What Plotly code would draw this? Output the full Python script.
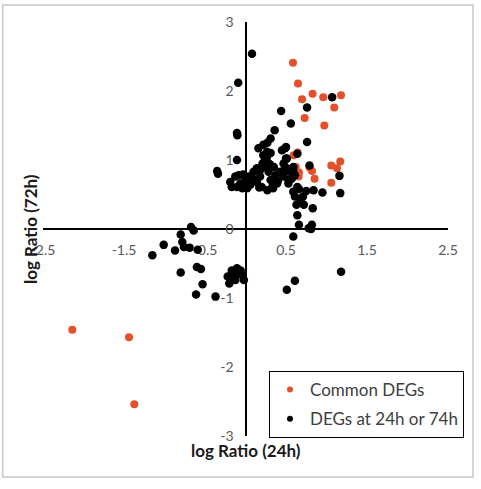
import plotly.graph_objects as go

# Common DEGs (orange)
common_x = [0.586, 0.648, 0.698, 0.828, 0.960, 1.179, 1.096, 0.730, 0.973, 0.594, 0.643,
            0.791, 0.821, 0.656, 0.853, 1.059, 1.170, 1.130, 1.059, 0.62, 0.66,
            -2.138, -1.438, -1.373]
common_y = [2.41, 2.11, 1.88, 1.96, 1.91, 1.94, 1.76, 1.61, 1.50, 1.07, 1.11,
            0.89, 0.84, 0.76, 0.73, 0.92, 0.98, 0.88, 0.67, 0.90, 0.82,
            -1.46, -1.57, -2.54]

# DEGs at 24h or 74h (black)
other_x = [0.08, -0.09, 1.07, 0.76, 0.44, 0.56, 0.36, -0.105, -0.10, 0.76, 0.31, 0.27, 0.22, 0.16,
           0.50, 0.45, 0.64, -0.105, -0.35, -0.34, 0.79, 1.16, 1.17, 0.95, 0.84, 0.75, 0.66,
           0.59, 0.61, 0.68, 0.72, 0.63, 0.83, 0.64, 0.66, 0.78, 0.82, 0.81, 0.59, 0.71,
           -0.188, -0.126, -0.085, -0.064, 0.0, 0.04, 0.06, 0.10, 0.14, 0.18, 0.20, 0.24,
           0.265, 0.27, 0.285, 0.31, 0.33, 0.35, 0.37, 0.39, 0.43, 0.47, 0.49, 0.51, 0.53,
           0.57, 0.59, 0.64, 0.265, 0.31, -0.105, -0.04, -0.17, 0.02, 0.08, 0.22, 0.24, 0.21,
           0.30, 0.49, 0.50, 0.47, 0.51, 0.55, 0.59, 0.61, 0.47, 0.53, 0.10, 0.14, 0.17,
           0.02, -0.03, 0.27, 0.34, 0.18, 0.40,
           1.18, 0.61, 0.51,
           -0.673, -0.64, -0.80, -0.78, -1.01, -1.15, -0.87, -0.76, -0.69, -0.59, -0.60, -0.55,
           -0.80, -0.53, -0.61, -0.37,
           -0.17, -0.105, -0.06, -0.15, -0.085, -0.02, -0.20, -0.125, -0.17, -0.22, -0.05, -0.12]
other_y = [2.54, 2.12, 1.91, 1.76, 1.71, 1.53, 1.43, 1.39, 1.36, 1.26, 1.31, 1.25, 1.22, 1.17,
           1.19, 1.14, 1.09, 1.00, 0.84, 0.80, 0.92, 0.77, 0.52, 0.53, 0.56, 0.55, 0.58,
           0.54, 0.47, 0.42, 0.35, 0.35, 0.30, 0.20, 0.06, 0.01, 0.06, 0.00, -0.11, 0.47,
           0.68, 0.76, 0.78, 0.66, 0.71, 0.76, 0.64, 0.83, 0.68, 0.76, 0.61, 0.90,
           1.05, 0.97, 0.83, 0.71, 0.61, 0.90, 0.78, 0.66, 0.83, 0.76, 0.88, 1.02, 0.66,
           0.73, 0.83, 0.61, 1.12, 1.10, 0.61, 0.59, 0.61, 0.61, 0.71, 1.07, 0.99, 0.95,
           0.94, 1.17, 1.02, 0.95, 0.88, 0.83, 0.90, 0.78, 0.81, 0.71, 0.72, 0.88, 0.60,
           0.59, 0.79, 0.56, 0.59, 0.85, 0.70,
           -0.62, -0.75, -0.88,
           0.03, -0.02, -0.08, -0.19, -0.23, -0.38, -0.31, -0.26, -0.27, -0.30, -0.55, -0.58,
           -0.63, -0.80, -0.95, -0.98,
           -0.60, -0.57, -0.60, -0.67, -0.64, -0.74, -0.79, -0.74, -0.72, -0.69, -0.66, -0.62]

x_ticks = [-2.5, -1.5, -0.5, 0.5, 1.5, 2.5]
x_ticklabels = ["-2.5", "-1.5", "-0.5", "0.5", "1.5", "2.5"]
y_ticks = [-3, -2, -1, 0, 1, 2, 3]
y_ticklabels = ["-3", "-2", "-1", "0", "1", "2", "3"]

ORANGE = "#E4502A"
FONT = "Lato"
fig = go.Figure()
fig.add_trace(go.Scatter(x=common_x, y=common_y, mode="markers", name="Common DEGs",
                         showlegend=False, marker=dict(color=ORANGE, size=8)))
fig.add_trace(go.Scatter(x=other_x, y=other_y, mode="markers", name="DEGs at 24h or 74h",
                         showlegend=False, marker=dict(color="#000000", size=8.5)))
# legend entries (smaller symbols, as in the reference)
fig.add_trace(go.Scatter(x=[None], y=[None], mode="markers", name="Common DEGs",
                         legendgroup="a", marker=dict(color=ORANGE, size=6)))
fig.add_trace(go.Scatter(x=[None], y=[None], mode="markers", name="DEGs at 24h or 74h",
                         legendgroup="b", marker=dict(color="#000000", size=6)))

fig.update_layout(
    width=481, height=489,
    margin=dict(l=43, r=33, t=22, b=53, autoexpand=False),
    paper_bgcolor="white", plot_bgcolor="white",
    font=dict(family=FONT, color="#595959", size=14),
    xaxis=dict(range=[-2.5, 2.5], tickvals=x_ticks, ticktext=x_ticklabels,
               anchor="free", position=0.5, showgrid=False, zeroline=False,
               showline=True, linecolor="black", linewidth=2, ticks="",
               ticklabelstandoff=8, layer="below traces",
               tickfont=dict(family=FONT, size=14, color="#595959")),
    yaxis=dict(range=[-3, 3], tickvals=y_ticks, ticktext=y_ticklabels,
               anchor="free", position=0.5, showgrid=False, zeroline=False,
               showline=True, linecolor="black", linewidth=2, ticks="",
               ticklabelstandoff=8, layer="below traces",
               tickfont=dict(family=FONT, size=14, color="#595959")),
    showlegend=True,
    legend=dict(x=0.558, y=0.157, xanchor="left", yanchor="top",
                bordercolor="black", borderwidth=1, bgcolor="white",
                font=dict(family=FONT, size=17, color="#404040"),
                traceorder="grouped", tracegroupgap=4, itemwidth=30),
    annotations=[
        dict(text="<b>log Ratio (24h)</b>", xref="paper", yref="paper",
             x=0.5, y=-0.035, xanchor="center", yanchor="middle", showarrow=False,
             font=dict(family=FONT, size=17, color="#1a1a1a")),
        dict(text="<b>log Ratio (72h)</b>", xref="paper", yref="paper",
             x=-0.032, y=0.5, xanchor="center", yanchor="middle", showarrow=False,
             textangle=-90, font=dict(family=FONT, size=17, color="#1a1a1a")),
    ],
    shapes=[dict(type="rect", xref="paper", yref="paper",
                 x0=-0.0995, x1=1.0617, y0=-0.099, y1=1.041,
                 line=dict(color="#c8c8c8", width=1.5), fillcolor="rgba(0,0,0,0)",
                 layer="below")],
)

fig.write_html("out.html")
